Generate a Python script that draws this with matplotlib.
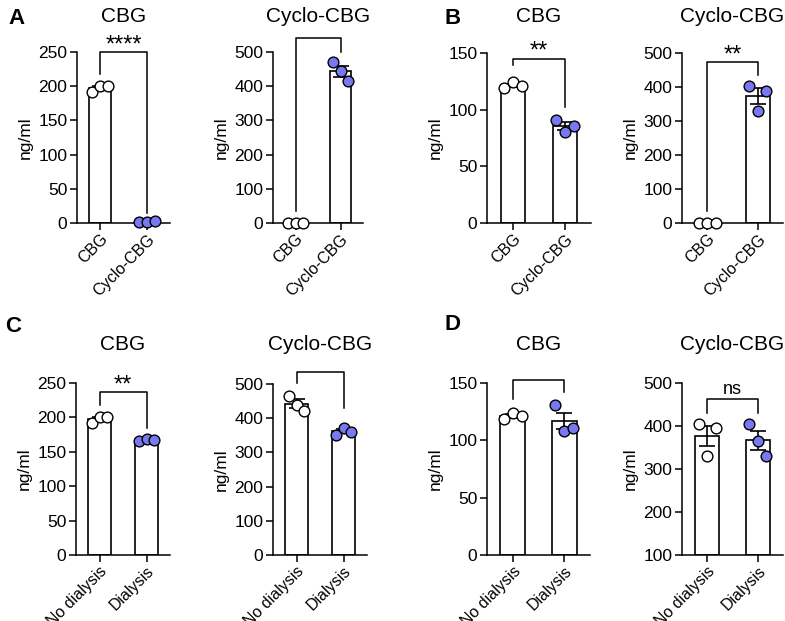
import numpy as np
import matplotlib
matplotlib.use("Agg")
import matplotlib.pyplot as plt

plt.rcParams['font.family'] = ['Liberation Sans', 'DejaVu Sans']

cats_top = ["CBG", "Cyclo-CBG"]
cats_bot = ["No dialysis", "Dialysis"]

A1 = [[192, 200, 201], [1, 2, 3]]
A2 = [[0, 0, 0], [470, 445, 415]]
B1 = [[119, 124, 121], [91, 80, 86]]
B2 = [[0, 0, 0], [403, 330, 388]]
C1 = [[192, 200, 201], [165, 168, 167]]
C2 = [[465, 440, 420], [352, 372, 360]]
D1 = [[119, 124, 121], [131, 108, 111]]
D2 = [[405, 330, 395], [405, 365, 330]]

panels = [
    (A1, cats_top, "CBG", (0, 250), [0, 50, 100, 150, 200, 250], (250, 218, 15), "****", (77, 170, 223, 52)),
    (A2, cats_top, "Cyclo-CBG", (0, 500), [0, 100, 200, 300, 400, 500], (540, 35, 500), "**", (273, 363, 223, 52)),
    (B1, cats_top, "CBG", (0, 150), [0, 50, 100, 150], (145, 139, 102), "**", (487, 591, 223, 53)),
    (B2, cats_top, "Cyclo-CBG", (0, 500), [0, 100, 200, 300, 400, 500], (473, 35, 435), "**", (682, 783, 223, 53)),
    (C1, cats_bot, "CBG", (0, 250), [0, 50, 100, 150, 200, 250], (237, 218, 185), "**", (76, 170, 555, 383)),
    (C2, cats_bot, "Cyclo-CBG", (0, 500), [0, 100, 200, 300, 400, 500], (535, 503, 430), "*", (273, 367, 555, 384)),
    (D1, cats_bot, "CBG", (0, 150), [0, 50, 100, 150], (153, 136, 142), "ns", (487, 590, 555, 383)),
    (D2, cats_bot, "Cyclo-CBG", (100, 500), [100, 200, 300, 400, 500], (463, 430, 430), "ns", (682, 783, 555, 383)),
]

W, H = 785, 621
fig = plt.figure(figsize=(W / 100, H / 100), dpi=100)
colors = ["white", "#7878f0"]
offs = [-0.17, 0.0, 0.17]

for data, cats, title, ylim, yt, br, lab, (l, r, b, t) in panels:
    ax = fig.add_axes([l / W, 1 - b / H, (r - l) / W, (b - t) / H])
    for i, vals in enumerate(data):
        m = np.mean(vals)
        sem = np.std(vals, ddof=1) / np.sqrt(len(vals))
        ax.bar(i, m - ylim[0], bottom=ylim[0], width=0.48, color="white",
               edgecolor="black", linewidth=1.2, zorder=1)
        ax.errorbar(i, m, yerr=sem, color="black", capsize=6, elinewidth=1.2,
                    capthick=1.2, zorder=2)
        ax.scatter([i + o for o in offs], vals, s=60, facecolor=colors[i],
                   edgecolor="black", linewidth=1.0, zorder=3, clip_on=False)
    top, lb, rb = br
    ax.plot([0, 0, 1, 1], [lb, top, top, rb], color="black", lw=1.1, clip_on=False)
    if lab == "ns":
        ax.annotate(lab, (0.5, top), xytext=(0, 1), textcoords="offset points",
                    ha="center", va="bottom", fontsize=13)
    else:
        ax.annotate(lab, (0.5, top), xytext=(0, -3), textcoords="offset points",
                    ha="center", va="bottom", fontsize=17)
    ax.set_xlim(-0.5, 1.5)
    ax.set_ylim(*ylim)
    ax.set_yticks(yt)
    ax.set_xticks([0, 1])
    ax.set_xticklabels(cats, rotation=45, ha="right", rotation_mode="anchor", fontsize=11.5)
    ax.tick_params(axis="y", labelsize=12.5, width=1.1, length=5, colors="black", pad=2)
    ax.tick_params(axis="x", width=1.1, length=5, colors="black", pad=1)
    ax.set_ylabel("ng/ml", fontsize=12.5, labelpad=4)
    for s in ["top", "right"]:
        ax.spines[s].set_visible(False)
    for s in ["left", "bottom"]:
        ax.spines[s].set_linewidth(1.1)
    ty = 17 if t < 100 else 345
    fig.text((l + r) / 2 / W, 1 - ty / H, title, ha="center", va="center", fontsize=15)

for txt, x, y in [("A", 8, 18), ("B", 445, 18), ("C", 5, 327), ("D", 445, 325)]:
    fig.text(x / W, 1 - y / H, txt, fontsize=16, fontweight="bold", va="center", ha="left")

fig.savefig("out.png", dpi=100)
